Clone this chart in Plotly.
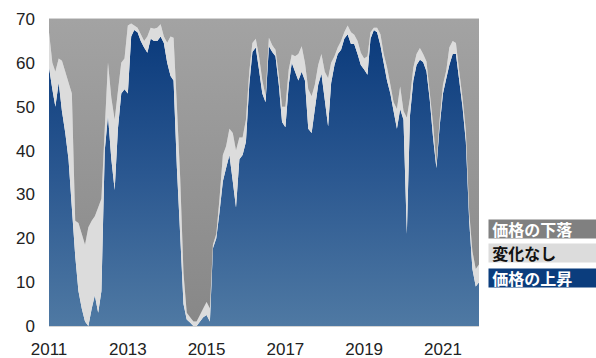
import pandas as pd
import plotly.graph_objects as go

# Monthly, Jan 2011 - Dec 2021
months = pd.date_range("2011-01-01", "2021-12-01", freq="MS")

up = [59, 54, 50, 55.5, 49, 44, 38, 27, 16, 8, 4, 1,
      0, 4, 7, 3, 8, 40, 48, 38, 31, 45, 53, 54,
      53, 66, 67.5, 67, 65, 63.5, 62.3, 65.5, 65, 65, 66, 64.5,
      60, 57, 56, 36, 21, 5, 1.5, 0.8, 0, 0, 1, 2,
      2.5, 1, 17.7, 20, 26, 33, 36, 39, 33, 27, 38, 39,
      42, 55, 62.5, 63.5, 58.5, 53, 51, 63.8, 62.5, 61.5, 55, 46.5,
      45.3, 55, 60, 58, 56, 58, 56, 45, 44, 49.5, 55, 57.5,
      51.6, 45.5, 55.4, 59.5, 62, 63, 65.5, 66.5, 64.3, 64.3, 62, 59.5,
      58.5, 57.3, 65.5, 67.5, 67, 64, 60, 56, 53, 49, 45, 49.5,
      47, 21, 48, 56, 59.5, 60.7, 60.2, 58.1, 51.5, 43, 36, 45.5,
      53, 56.5, 59.5, 62, 62, 56, 50, 42, 24, 13, 9, 10]

flat = [8, 6, 8, 5.5, 11.5, 14, 17.5, 26, 8, 15.5, 17, 17.5,
        22.5, 20, 18, 24, 21, 5, 12, 14, 16, 8.5, 7, 7,
        15.5, 3, 1, 1, 1.5, 1.5, 3.7, 2.5, 2.8, 3, 2.8, 1.5,
        4.6, 9, 9.7, 14, 13, 7, 1.5, 1.2, 1, 1, 1.5, 2,
        3, 3, 0.8, 1, 3, 6, 5, 6, 11, 13, 5, 4,
        5, 3, 2, 2, 3, 3, 1.5, 1.9, 1.5, 1.5, 2, 3.5,
        4.7, 3.5, 1.9, 3.5, 6, 5.8, 4, 9, 8.4, 5.5, 4.5, 4.5,
        6.4, 11, 4.6, 2, 1.5, 2, 1.5, 2, 2.7, 2.1, 3, 2.8,
        2.5, 4.2, 1.5, 0.5, 1, 2.5, 2, 3, 2, 2, 4.5, 5.1,
        2, 26.5, 4, 2.9, 2.5, 2.7, 1.8, 2.2, 1.5, 3, 1, 1.5,
        2, 1.8, 4, 3, 2.5, 2, 2, 2.5, 2, 4, 4, 4]

down = [round(100 - u - f, 2) for u, f in zip(up, flat)]

labels = ["価格の上昇", "変化なし", "価格の下落"]
x_ticks = ["2011", "2013", "2015", "2017", "2019", "2021"]
y_ticks = [0, 10, 20, 30, 40, 50, 60, 70]

fig = go.Figure()
fig.add_trace(go.Scatter(
    x=months, y=up, name=labels[0], stackgroup="s", mode="none",
    fillgradient=dict(type="vertical", start=0, stop=70,
                      colorscale=[[0, "#4f79a3"], [0.5, "#2a5790"], [1, "#08387a"]]),
))
fig.add_trace(go.Scatter(
    x=months, y=flat, name=labels[1], stackgroup="s", mode="none",
    fillcolor="#dcdcdc",
))
fig.add_trace(go.Scatter(
    x=months, y=down, name=labels[2], stackgroup="s", mode="none",
    fillgradient=dict(type="vertical", start=0, stop=70,
                      colorscale=[[0, "#878787"], [1, "#a3a3a3"]]),
))

font_cjk = "Noto Sans CJK JP"
legend_items = [
    (labels[2], "#808080", "white", 22.2),
    (labels[1], "#dcdcdc", "#111111", 16.6),
    (labels[0], "#0b3d7d", "white", 10.9),
]
for text, bg, fc, yv in legend_items:
    fig.add_annotation(
        x=1.0205, xref="paper", y=yv, yref="y", xanchor="left", yanchor="middle",
        text="\u2009" + text, showarrow=False, bgcolor=bg, align="left",
        width=112, height=18, borderpad=0,
        font=dict(family=font_cjk, size=16, color=fc, weight="bold"),
    )

fig.update_layout(
    width=596, height=358,
    margin=dict(l=49, r=117, t=19, b=32),
    paper_bgcolor="white", plot_bgcolor="white",
    showlegend=False,
    font=dict(family="Liberation Sans, Arial", size=17, color="#222222"),
)
fig.update_xaxes(
    type="date", range=[months[0], months[-1]],
    tickvals=[pd.Timestamp(f"{y}-01-01") for y in x_ticks], ticktext=x_ticks,
    showgrid=False, zeroline=False, showline=True, mirror=True,
    linecolor="#d4d4d4", linewidth=1, ticks="", ticklabelstandoff=8,
    automargin=False,
)
fig.update_yaxes(
    range=[0, 70], tickvals=y_ticks, showgrid=False, zeroline=False,
    ticks="", ticklabelstandoff=13, automargin=False,
)

fig.write_html("out.html")
